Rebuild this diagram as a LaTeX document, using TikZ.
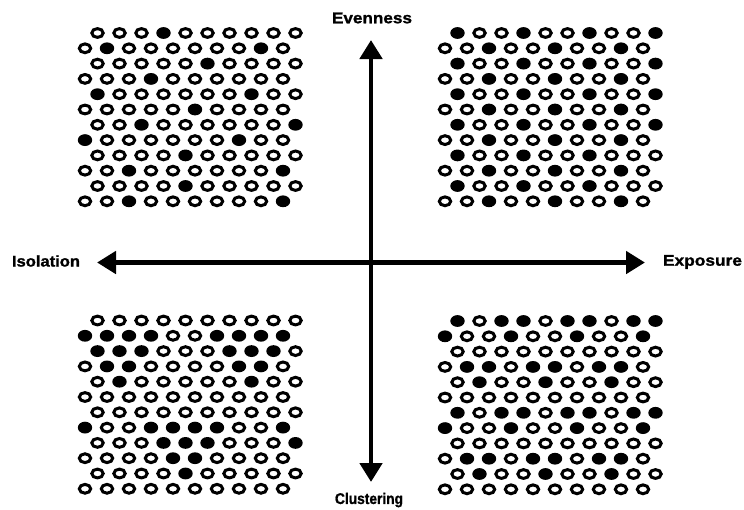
\documentclass[tikz,border=0pt]{standalone}
\usepackage{fontspec}
\setmainfont{Liberation Sans}
\newfontfamily\labfont[FakeBold=1.2]{Liberation Sans Bold}
\usetikzlibrary{arrows.meta}
\newcommand{\wlabel}[2]{\resizebox{#1}{\height}{\fontsize{15.5}{16}\labfont #2}}
\newcommand{\dotgrid}[3]{%
  \foreach \rowv [count=\r from 0] in {#3} {
    \ifodd\r \def\sh{0}\else\def\sh{12.5}\fi
    \foreach \v [count=\c from 0] in \rowv {
      \pgfmathsetmacro{\xx}{#1+\sh+22*\c}
      \pgfmathsetmacro{\yy}{#2+15.3*\r}
      \ifnum\v=1
        \fill[black] (\xx,\yy) ellipse [x radius=7.2pt, y radius=5.9pt];
      \else
        \draw[black, line width=3.0pt] (\xx,\yy) ellipse [x radius=5.7pt, y radius=4.4pt];
      \fi
    }
  }
}
\begin{document}
\begin{tikzpicture}[x=1pt,y=-1pt,
  axis/.style={line width=4.8pt, {Triangle[length=19pt,width=22pt]}-{Triangle[length=19pt,width=22pt]}},
  lab/.style={inner sep=0pt}]
\useasboundingbox (0,0) rectangle (744,509);
\fill[white] (0,0) rectangle (744,509);

% top-left
\dotgrid{85}{33}{{0,0,0,1,0,0,0,0,0,0},{0,1,0,0,0,0,0,0,1,0},{0,0,0,0,0,1,0,0,0,0},{0,0,0,1,0,0,0,0,0,0},{1,0,0,0,0,0,0,1,0,0},{0,0,0,0,0,1,0,0,0,0},{0,0,1,0,0,0,0,0,0,1},{1,0,0,0,0,0,0,1,0,0},{0,0,0,0,1,0,0,0,0,0},{0,0,1,0,0,0,0,0,0,1},{0,0,0,0,1,0,0,0,0,0},{0,0,1,0,0,0,0,0,0,1}}
% top-right
\dotgrid{445}{33}{{1,0,0,1,0,0,1,0,0,1},{0,0,1,0,0,1,0,0,1,0},{1,0,0,1,0,0,1,0,0,1},{0,0,1,0,0,1,0,0,1,0},{1,0,0,1,0,0,1,0,0,1},{0,0,1,0,0,1,0,0,1,0},{1,0,0,1,0,0,1,0,0,1},{0,0,1,0,0,1,0,0,1,0},{1,0,0,1,0,0,1,0,0,0},{0,0,1,0,0,1,0,0,1,0},{1,0,0,1,0,0,1,0,0,0},{0,0,1,0,0,1,0,0,1,0}}
% bottom-left
\dotgrid{85}{320.5}{{0,0,0,0,0,0,0,0,0,0},{1,1,1,1,0,0,1,1,1,1},{1,1,1,0,0,0,1,1,1,0},{0,1,1,0,0,0,0,1,1,0},{0,1,0,0,0,0,0,1,0,0},{0,0,0,0,0,0,0,0,0,0},{0,0,0,0,0,0,0,0,0,0},{1,0,0,1,1,1,1,0,0,1},{0,0,0,1,1,1,0,0,0,1},{0,0,0,0,1,1,0,0,0,0},{0,0,0,0,1,0,0,0,0,0},{0,0,0,0,0,0,0,0,0,0}}
% bottom-right
\dotgrid{445}{321}{{1,0,1,1,0,1,1,0,1,1},{1,0,0,1,0,0,1,0,0,1},{0,0,0,0,0,0,0,0,0,0},{0,1,1,0,1,1,0,1,1,0},{0,1,0,0,1,0,0,1,0,0},{0,0,0,0,0,0,0,0,0,0},{1,0,1,1,0,1,1,0,1,1},{1,0,0,1,0,0,1,0,0,1},{0,0,0,0,0,0,0,0,0,0},{0,1,1,0,1,1,0,1,1,0},{0,1,0,0,1,0,0,1,0,0},{0,0,0,0,0,0,0,0,0,0}}

% axes
\coordinate (top) at (371,40);
\coordinate (bot) at (371,482);
\coordinate (lft) at (97,262.5);
\coordinate (rgt) at (645,262.5);
\draw[axis] (bot) -- (top);
\draw[axis] (lft) -- (rgt);

% labels
\node[lab] (ev) at (372,18) {\wlabel{80pt}{Evenness}};
\node[lab] (cl) at (369,500) {\wlabel{68pt}{Clustering}};
\node[lab] (is) at (46,261) {\wlabel{68pt}{Isolation}};
\node[lab] (ex) at (702.5,262) {\wlabel{79pt}{Exposure}};
\end{tikzpicture}
\end{document}
